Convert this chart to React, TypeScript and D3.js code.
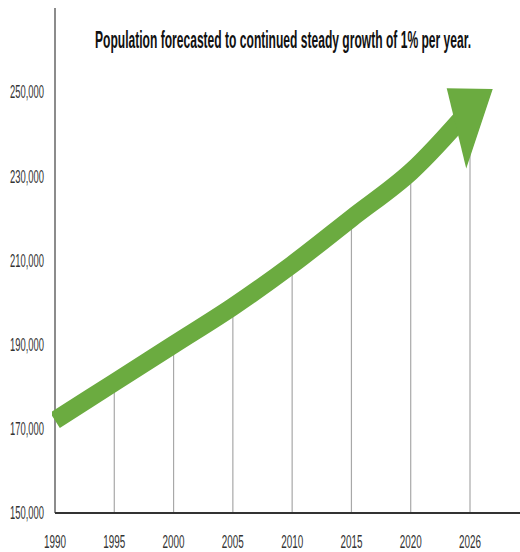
import React, { useLayoutEffect, useRef, useState } from "react";
import * as d3 from "d3";

// Forecast population at each milestone year
const years = ["1990", "1995", "2000", "2005", "2010", "2015", "2020", "2026"];
const population = [172000, 181000, 190000, 199000, 209000, 220000, 231000, 246000];
const yTicks = [150000, 170000, 190000, 210000, 230000, 250000];
const title = "Population forecasted to continued steady growth of 1% per year.";

const W = 520;
const H = 552;
const plot = { left: 55, right: 470, top: 92, bottom: 513, axisTop: 8, axisRight: 520 };
const green = "#6bab40";
const titleWidth = 376;

// Arrowhead outline in the frame of the last segment (u = forward, v = across)
const headShape: [number, number][] = [
  [30, 3],
  [-1, -31],
  [-46, 38],
];

export default function App() {
  const titleRef = useRef<SVGTextElement>(null);
  const [titleScale, setTitleScale] = useState(0.6);

  useLayoutEffect(() => {
    const el = titleRef.current;
    if (el) {
      const natural = el.getComputedTextLength();
      if (natural > 0) setTitleScale(titleWidth / natural);
    }
  }, []);

  const x = d3.scalePoint<string>().domain(years).range([plot.left, plot.right]);
  const y = d3.scaleLinear().domain([150000, 250000]).range([plot.bottom, plot.top]);
  const fmt = d3.format(",");

  const pts = years.map((yr, i) => [x(yr)!, y(population[i])] as [number, number]);
  const shaft = d3.line().curve(d3.curveCatmullRom.alpha(0.5))(pts) || "";

  const a = pts[pts.length - 2];
  const b = pts[pts.length - 1];
  const len = Math.hypot(b[0] - a[0], b[1] - a[1]);
  const u = [(b[0] - a[0]) / len, (b[1] - a[1]) / len];
  const v = [-u[1], u[0]];
  const head = headShape
    .map(([s, t]) => [b[0] + s * u[0] + t * v[0], b[1] + s * u[1] + t * v[1]])
    .map((p) => p.join(","))
    .join(" ");

  const labelFont = "'Liberation Sans', Arial, sans-serif";

  return (
    <svg
      width={W}
      height={H}
      viewBox={`0 0 ${W} ${H}`}
      style={{ position: "absolute", left: 0, top: 0, background: "#fff" }}
    >
      <defs>
        <clipPath id="plot-clip">
          <rect x={plot.left - 3} y={0} width={W} height={plot.bottom} />
        </clipPath>
      </defs>

      {/* vertical guides from the baseline up to the trend */}
      {years.slice(1).map((yr, i) => (
        <line
          key={yr}
          x1={x(yr)}
          x2={x(yr)}
          y1={plot.bottom}
          y2={y(population[i + 1])}
          stroke="#a8a8a8"
          strokeWidth={1.2}
        />
      ))}

      {/* axes */}
      <line x1={plot.left} x2={plot.left} y1={plot.axisTop} y2={plot.bottom} stroke="#666" strokeWidth={1.5} />
      <line x1={plot.left} x2={plot.axisRight} y1={plot.bottom} y2={plot.bottom} stroke="#333" strokeWidth={2} />

      {/* trend arrow */}
      <path d={shaft} fill="none" stroke={green} strokeWidth={18} clipPath="url(#plot-clip)" />
      <polygon points={head} fill={green} />

      {/* y tick labels */}
      {yTicks.map((t) => (
        <text
          key={t}
          x={44}
          y={y(t)}
          dy="0.36em"
          textAnchor="end"
          fontFamily={labelFont}
          fontSize={18}
          fill="#333"
          textLength={34}
          lengthAdjust="spacingAndGlyphs"
        >
          {fmt(t)}
        </text>
      ))}

      {/* x tick labels */}
      {years.map((yr) => (
        <text
          key={yr}
          x={x(yr)}
          y={548}
          textAnchor="middle"
          fontFamily={labelFont}
          fontSize={19}
          fill="#333"
          textLength={22}
          lengthAdjust="spacingAndGlyphs"
        >
          {yr}
        </text>
      ))}

      <g transform={`translate(95,48) scale(${titleScale},1)`}>
        <text
          ref={titleRef}
          x={0}
          y={0}
          fontFamily={labelFont}
          fontWeight="bold"
          fontSize={23}
          fill="#111"
        >
          {title}
        </text>
      </g>
    </svg>
  );
}
